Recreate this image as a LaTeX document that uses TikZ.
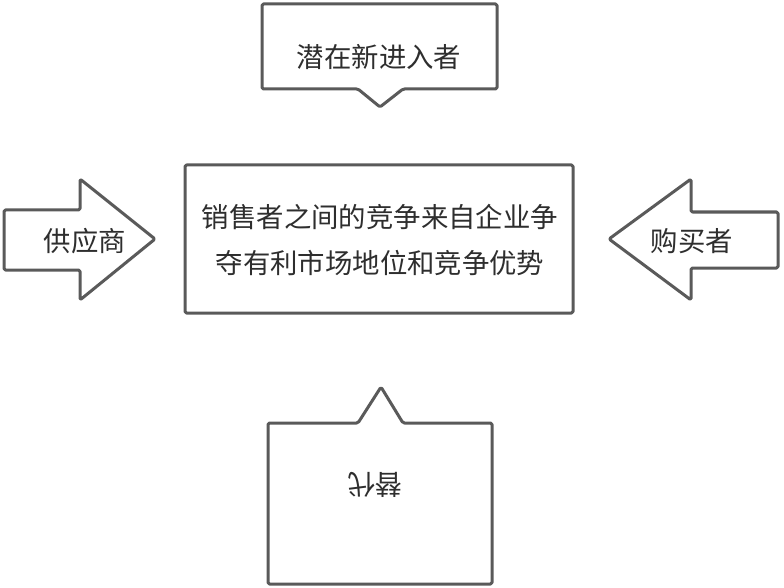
\documentclass[tikz,border=0pt]{standalone}
\usepackage{fontspec}
\usepackage{xcolor}
\newfontfamily\cjk{Noto Sans CJK SC}
\definecolor{edgegray}{HTML}{5A5A5A}
\definecolor{textgray}{HTML}{2E2E2E}

\begin{document}
\begin{tikzpicture}[
  x=1bp, y=-1bp,
  shapeline/.style={
    draw=edgegray, fill=white, line width=3bp,
    line join=round, rounded corners=1.5bp
  },
  label/.style={
    font=\cjk\fontsize{27.5}{46}\selectfont, text=textgray,
    inner sep=0pt, align=center
  }
]
\useasboundingbox (0,0) rectangle (784,588);

% Central box
\draw[shapeline] (185,165) rectangle (573,313);
\node[label] (rivalry) at (380,240) {销售者之间的竞争来自企业争\\夺有利市场地位和竞争优势};

% Top callout
\draw[shapeline] (262,4) -- (497,4) -- (497,89) -- (403,89) -- (380,107)
  -- (358,89) -- (262,89) -- cycle;
\node[label] (entrants) at (379,57) {潜在新进入者};

% Left arrow
\draw[shapeline] (4,210) -- (80,210) -- (80,179) -- (155,239) -- (80,300)
  -- (80,270) -- (4,270) -- cycle;
\node[label] (suppliers) at (85,241) {供应商};

% Right arrow
\draw[shapeline] (778,212) -- (691,212) -- (691,179) -- (609,239) -- (691,300)
  -- (691,268) -- (778,268) -- cycle;
\node[label] (buyers) at (692,241) {购买者};

% Bottom callout (upside down)
\draw[shapeline] (268,423) -- (358,423) -- (381,387) -- (403,423) -- (492,423)
  -- (492,584) -- (268,584) -- cycle;
\node[label, rotate=180] (substitutes) at (375,485) {替代};

\end{tikzpicture}
\end{document}
